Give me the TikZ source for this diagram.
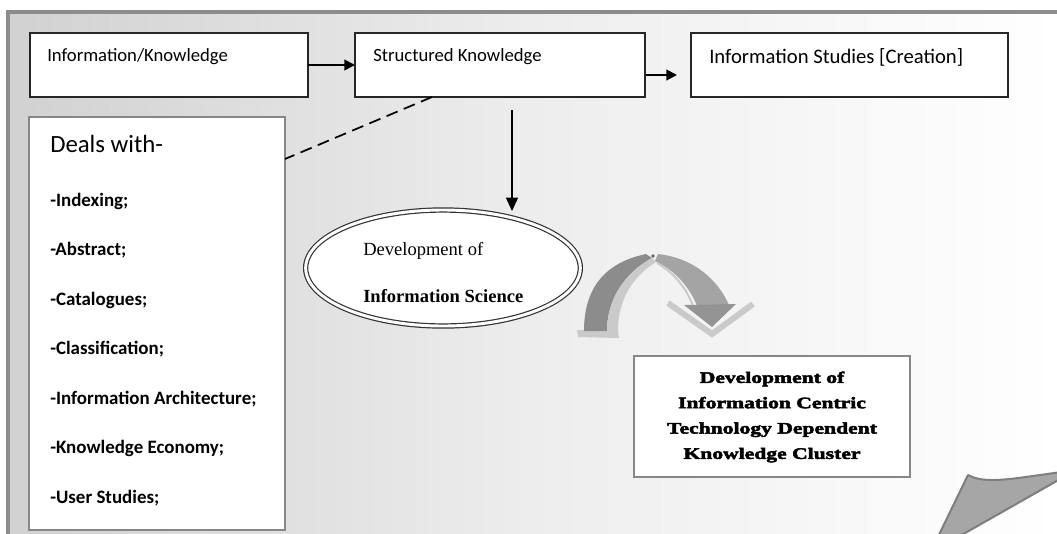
\documentclass[tikz,border=0pt]{standalone}
\usepackage{fontspec}
\setmainfont{Carlito}
\newfontfamily\serifont{Liberation Serif}
\newfontfamily\fatfont{Liberation Serif}[FakeStretch=1.35,BoldFeatures={FakeBold=3}]
\usetikzlibrary{arrows.meta,shapes.geometric}
\definecolor{framegray}{HTML}{8C8C8C}
\definecolor{boxgray}{HTML}{878787}
\definecolor{arcdark}{HTML}{8C8C8C}
\definecolor{arcmid}{HTML}{A4A4A4}
\definecolor{arclight}{HTML}{CACACA}
\definecolor{wedgefill}{HTML}{A6A6A6}
\definecolor{wedgeline}{HTML}{7E7E7E}
\begin{document}
\begin{tikzpicture}[x=0.75pt,y=-0.75pt,
  topbox/.style={draw=black!85, fill=white, line width=1.1pt, inner sep=0pt, outer sep=0pt, minimum height=48pt},
  graybox/.style={draw=boxgray, fill=white, inner sep=0pt, outer sep=0pt},
  txt/.style={inner sep=0pt, anchor=base west},
  item/.style={inner sep=0pt, anchor=base west, font=\fontsize{14.2}{17}\selectfont\bfseries},
  conn/.style={-{Triangle[length=8pt,width=8pt]}, line width=1.5pt},
  vconn/.style={-{Triangle[length=10pt,width=9pt]}, line width=1.1pt}]
\useasboundingbox (0,0) rectangle (1057,533);
% background and frame
\shade[left color=black!18, right color=white, middle color=black!7, shading angle=90] (8,12) rectangle (1057,533);
\draw[framegray, line width=2.3pt] (8,535) -- (8,12) -- (1059,12);

% top boxes
\node[topbox, minimum width=208.5pt] (b1) at (169,65) {};
\node[topbox, minimum width=217.5pt] (b2) at (500,65) {};
\node[topbox, minimum width=237.75pt] (b3) at (849.5,65) {};
\node[txt, font=\fontsize{14}{16}\selectfont] (t1) at (47,61) {Information/Knowledge};
\node[txt, font=\fontsize{14}{16}\selectfont] (t2) at (373,61) {Structured Knowledge};
\node[txt, font=\fontsize{15.5}{18}\selectfont] (t3) at (709,63) {Information Studies [Creation]};

\draw[conn] (b1.east) -- (b2.west);
\coordinate (a2s) at (646,75);
\coordinate (a2e) at (677,75);
\draw[conn] (a2s) -- (a2e);

% deals box
\node[graybox, line width=2.2pt, minimum width=192pt, minimum height=309.75pt] (deals) at (157,323.5) {};
\node[txt, font=\fontsize{18.6}{21}\selectfont] (dw) at (50,152) {Deals with-};
\node[item] (i1) at (50,206) {-Indexing;};
\node[item] (i2) at (50,255.5) {-Abstract;};
\node[item] (i3) at (50,305) {-Catalogues;};
\node[item] (i4) at (50,354.5) {-Classification;};
\node[item] (i5) at (50,404) {-Information Architecture;};
\node[item] (i6) at (50,453.5) {-Knowledge Economy;};
\node[item] (i7) at (50,503) {-User Studies;};

% dashed link
\coordinate (ds) at (432,97);
\coordinate (de) at (285,159);
\draw[dashed, dash pattern=on 9pt off 5pt, line width=1.3pt] (ds) -- (de);

% ellipse
\node[ellipse, draw=black!80, line width=0.9pt, double=white, double distance=2.2pt, fill=white,
      minimum width=206pt, minimum height=87pt, inner sep=0pt] (ell) at (443,268) {};
\node[txt, font=\serifont\fontsize{13.9}{16}\selectfont] (e1) at (363,255) {Development of};
\node[txt, font=\serifont\fontsize{13.9}{16}\selectfont\bfseries] (e2) at (363,302) {Information Science};

\coordinate (vs) at (512,110);
\coordinate (ve) at (512,211);
\draw[vconn] (vs) -- (ve);

% curved arrow
\fill[arclight] (577,330) -- (618,331) -- (619,338) -- (578,337) -- cycle;
\fill[arcdark] (584,331) .. controls (584,290) and (603,263) .. (646,254)
   -- (652,258) .. controls (626,272) and (607,298) .. (607,331) -- cycle;
\fill[arclight] (607,331) .. controls (607,298) and (626,272) .. (652,258)
   -- (656,262) .. controls (632,277) and (618,300) .. (618,331) -- cycle;
\fill[arcmid] (658,254) .. controls (694,258) and (718,280) .. (729,305)
   -- (697,306) .. controls (690,288) and (676,271) .. (655,261) -- cycle;
\draw[arclight, line width=1.5pt] (657,263) .. controls (676,274) and (687,290) .. (693,306);
\fill[black!60] (653,256) circle (1.8);
\draw[arclight, line width=4.5pt, line join=miter] (668,303) -- (712,334) -- (753,304);
\fill[black!42] (684,305) -- (736,304) -- (712,327) -- cycle;

% bottom box
\node[graybox, line width=1.6pt, minimum width=207pt, minimum height=90.75pt] (cl) at (772,416.5) {};
\node[align=center, inner sep=0pt, font=\fatfont\bfseries\fontsize{12}{19}\selectfont] (clt) at (772,417)
  {Development of\\Information Centric\\Technology Dependent\\Knowledge Cluster};

% corner wedge
\filldraw[fill=wedgefill, draw=wedgeline, line width=1.5pt, line join=round]
  (968,475) .. controls (986,485) and (1015,478) .. (1062,472)
  -- (1062,478) -- (944,545) -- (934,545) -- cycle;
\end{tikzpicture}
\end{document}
